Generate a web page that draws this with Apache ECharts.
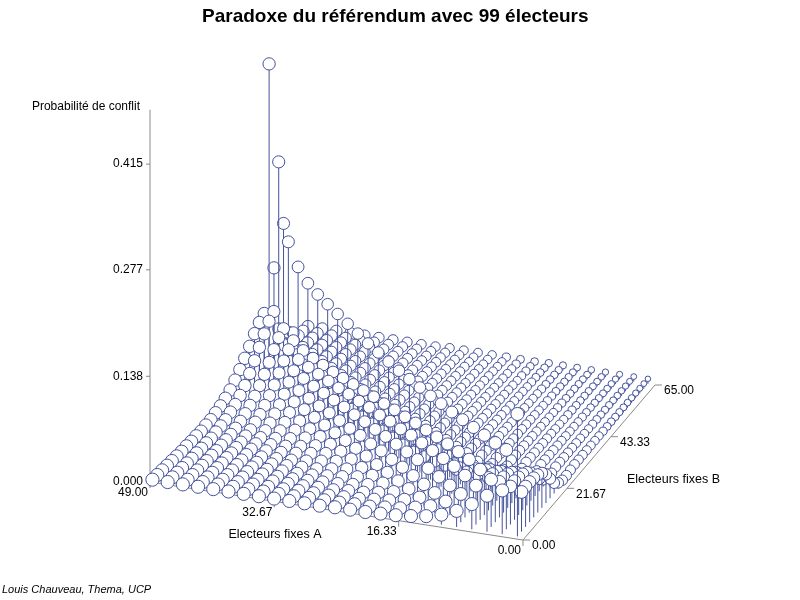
<!DOCTYPE html>
<html>
<head>
<meta charset="utf-8">
<title>Paradoxe du référendum</title>
<script src="https://cdn.jsdelivr.net/npm/echarts@6/dist/echarts.min.js"></script>
<style>
html,body{margin:0;padding:0;background:#fff}
#main{width:800px;height:600px}
</style>
</head>
<body>
<div id="main"></div>
<script>
// electeurs fixes A (lignes) et B (colonnes)
var electeursA = [1,3,5,7,9,11,13,15,17,19,21,23,25,27,29,31,33,35,37,39,41,43,45,47,49];
var electeursB = [1,3,5,7,9,11,13,15,17,19,21,23,25,27,29,31,33,35,37,39,41,43,45,47,49,51,53,55,57,59,61,63,65];

// probabilite de conflit, une ligne par valeur de A
var probConflit = [
	[0.160,0.052,0.053,0.053,0.052, 0.050,0.046,0.038,0.026,0.014, 0.008,0.005,0.005,0.006,0.007, 0.007,0.007,0.007,0.007,0.007, 0.007,0.007,0.007,0.007,0.007, 0.007,0.007,0.007,0.007,0.007, 0.007,0.007,0.007],
	[0.057,0.104,0.050,0.051,0.050, 0.048,0.044,0.037,0.027,0.016, 0.009,0.005,0.005,0.007,0.007, 0.007,0.007,0.007,0.007,0.007, 0.007,0.007,0.007,0.007,0.007, 0.007,0.007,0.007,0.007,0.007, 0.007,0.007,0.007],
	[0.047,0.062,0.104,0.047,0.047, 0.045,0.041,0.035,0.026,0.016, 0.010,0.006,0.005,0.007,0.007, 0.007,0.007,0.007,0.007,0.007, 0.007,0.007,0.007,0.007,0.007, 0.007,0.007,0.007,0.007,0.007, 0.007,0.007,0.007],
	[0.033,0.051,0.066,0.105,0.043, 0.042,0.039,0.033,0.025,0.016, 0.010,0.006,0.005,0.007,0.007, 0.007,0.007,0.007,0.007,0.007, 0.007,0.007,0.007,0.007,0.007, 0.007,0.007,0.007,0.007,0.007, 0.007,0.007,0.007],
	[0.021,0.037,0.055,0.070,0.106, 0.038,0.036,0.032,0.026,0.018, 0.011,0.007,0.005,0.007,0.007, 0.007,0.007,0.007,0.007,0.007, 0.007,0.007,0.007,0.007,0.007, 0.007,0.007,0.007,0.007,0.007, 0.007,0.007,0.007],
	[0.013,0.024,0.039,0.058,0.071, 0.107,0.032,0.029,0.024,0.017, 0.011,0.007,0.005,0.007,0.007, 0.007,0.007,0.007,0.007,0.007, 0.007,0.007,0.007,0.007,0.007, 0.007,0.007,0.007,0.007,0.007, 0.007,0.007,0.007],
	[0.008,0.015,0.026,0.041,0.059, 0.072,0.108,0.026,0.022,0.016, 0.011,0.007,0.005,0.007,0.007, 0.007,0.007,0.007,0.007,0.007, 0.007,0.007,0.007,0.007,0.007, 0.007,0.007,0.007,0.007,0.007, 0.007,0.007,0.007],
	[0.005,0.010,0.017,0.028,0.043, 0.060,0.072,0.110,0.022,0.017, 0.012,0.008,0.006,0.007,0.007, 0.007,0.007,0.007,0.007,0.007, 0.007,0.007,0.007,0.007,0.007, 0.007,0.007,0.007,0.007,0.007, 0.007,0.007,0.007],
	[0.003,0.006,0.011,0.019,0.030, 0.045,0.061,0.072,0.111,0.018, 0.014,0.009,0.007,0.006,0.006, 0.006,0.006,0.006,0.006,0.006, 0.006,0.006,0.006,0.006,0.006, 0.006,0.006,0.006,0.006,0.006, 0.006,0.006,0.006],
	[0.002,0.004,0.007,0.012,0.020, 0.032,0.046,0.062,0.072,0.113, 0.015,0.012,0.008,0.006,0.006, 0.006,0.006,0.006,0.006,0.006, 0.006,0.006,0.006,0.006,0.006, 0.006,0.006,0.006,0.006,0.006, 0.006,0.006,0.006],
	[0.001,0.002,0.005,0.008,0.014, 0.022,0.033,0.047,0.061,0.071, 0.115,0.012,0.010,0.007,0.006, 0.006,0.006,0.006,0.006,0.006, 0.006,0.006,0.006,0.006,0.006, 0.006,0.006,0.006,0.006,0.006, 0.006,0.006,0.006],
	[0.001,0.002,0.003,0.005,0.009, 0.015,0.023,0.035,0.048,0.062, 0.071,0.117,0.012,0.010,0.007, 0.006,0.006,0.006,0.006,0.006, 0.006,0.006,0.006,0.006,0.006, 0.006,0.006,0.006,0.006,0.006, 0.006,0.006,0.006],
	[0.001,0.001,0.002,0.004,0.006, 0.010,0.016,0.025,0.035,0.048, 0.061,0.070,0.120,0.012,0.010, 0.007,0.006,0.006,0.006,0.006, 0.006,0.006,0.006,0.006,0.006, 0.006,0.006,0.006,0.006,0.006, 0.006,0.006,0.006],
	[0.000,0.001,0.001,0.002,0.004, 0.007,0.011,0.018,0.026,0.037, 0.049,0.062,0.070,0.123,0.012, 0.010,0.007,0.006,0.006,0.006, 0.006,0.006,0.006,0.006,0.006, 0.006,0.006,0.006,0.006,0.006, 0.006,0.006,0.006],
	[0.000,0.001,0.001,0.002,0.003, 0.005,0.008,0.012,0.019,0.027, 0.037,0.049,0.061,0.069,0.126, 0.012,0.010,0.007,0.006,0.006, 0.006,0.006,0.006,0.006,0.006, 0.006,0.006,0.006,0.006,0.006, 0.006,0.006,0.006],
	[0.000,0.000,0.001,0.001,0.002, 0.003,0.005,0.009,0.013,0.019, 0.028,0.038,0.050,0.061,0.068, 0.130,0.012,0.010,0.007,0.005, 0.005,0.005,0.005,0.005,0.005, 0.005,0.005,0.005,0.005,0.005, 0.005,0.005,0.005],
	[0.000,0.000,0.000,0.001,0.001, 0.002,0.004,0.006,0.010,0.014, 0.020,0.029,0.039,0.050,0.060, 0.067,0.134,0.013,0.010,0.007, 0.005,0.005,0.005,0.005,0.005, 0.005,0.005,0.005,0.005,0.005, 0.005,0.005,0.005],
	[0.000,0.000,0.000,0.001,0.001, 0.002,0.003,0.004,0.007,0.010, 0.015,0.021,0.030,0.039,0.050, 0.060,0.066,0.138,0.014,0.011, 0.007,0.005,0.005,0.005,0.005, 0.005,0.005,0.005,0.005,0.005, 0.005,0.005,0.005],
	[0.000,0.000,0.000,0.000,0.001, 0.001,0.002,0.003,0.005,0.007, 0.011,0.016,0.022,0.031,0.040, 0.050,0.060,0.066,0.142,0.015, 0.011,0.007,0.005,0.005,0.005, 0.005,0.005,0.005,0.005,0.005, 0.005,0.005,0.005],
	[0.000,0.000,0.000,0.000,0.001, 0.001,0.001,0.002,0.004,0.006, 0.008,0.012,0.017,0.024,0.032, 0.041,0.051,0.060,0.066,0.146, 0.017,0.012,0.008,0.005,0.005, 0.005,0.005,0.005,0.005,0.005, 0.005,0.005,0.005],
	[0.000,0.000,0.000,0.000,0.000, 0.001,0.001,0.002,0.003,0.004, 0.006,0.009,0.013,0.019,0.025, 0.033,0.043,0.052,0.061,0.067, 0.152,0.020,0.014,0.008,0.005, 0.005,0.005,0.005,0.005,0.005, 0.005,0.005,0.005],
	[0.000,0.000,0.000,0.000,0.000, 0.000,0.001,0.001,0.002,0.003, 0.005,0.007,0.011,0.015,0.021, 0.028,0.036,0.046,0.056,0.065, 0.071,0.165,0.026,0.017,0.009, 0.005,0.005,0.005,0.005,0.005, 0.005,0.005,0.005],
	[0.000,0.000,0.000,0.000,0.000, 0.000,0.001,0.001,0.002,0.003, 0.004,0.006,0.009,0.013,0.018, 0.024,0.032,0.041,0.051,0.062, 0.072,0.078,0.190,0.060,0.024, 0.012,0.007,0.005,0.005,0.005, 0.005,0.005,0.005],
	[0.000,0.000,0.000,0.000,0.000, 0.000,0.001,0.001,0.002,0.002, 0.004,0.006,0.008,0.012,0.016, 0.022,0.029,0.039,0.050,0.062, 0.074,0.085,0.092,0.290,0.200, 0.045,0.014,0.007,0.005,0.005, 0.005,0.005,0.005],
	[0.000,0.000,0.000,0.000,0.000, 0.000,0.000,0.001,0.001,0.002, 0.002,0.004,0.005,0.008,0.011, 0.015,0.020,0.027,0.035,0.044, 0.054,0.065,0.074,0.080,0.415, 0.130,0.040,0.012,0.006,0.005, 0.005,0.005,0.005]
];

// graduations (trois intervalles par axe, comme sur l'original)
var ticksA = [49, 32.67, 16.33, 0];
var ticksB = [0, 21.67, 43.33, 65];
var ticksZ = [0, 0.138, 0.277, 0.415];
var maxA = 49, maxB = 65, hautAxeZ = 0.486;

var BLEU = '#45529b';
var GRIS = '#8a8a8a';
var POLICE = '"Liberation Sans", Arial, Helvetica, sans-serif';

// coins du plancher en pixels : (A=49,B=0) (A=0,B=0) (A=0,B=65) (A=49,B=65)
var c49_0 = [150, 482], c0_0 = [523, 540], c0_65 = [655, 385], c49_65 = [308, 330];
var echelleZ = 766;

function plancher(a, b){
	var u = 1 - a / maxA, v = b / maxB;
	var w00 = (1-u)*(1-v), w10 = u*(1-v), w11 = u*v, w01 = (1-u)*v;
	return [
		w00*c49_0[0] + w10*c0_0[0] + w11*c0_65[0] + w01*c49_65[0],
		w00*c49_0[1] + w10*c0_0[1] + w11*c0_65[1] + w01*c49_65[1]
	];
}
function projette(a, b, z){
	var p = plancher(a, b);
	return [p[0], p[1] - z * echelleZ * (1 - 0.06 * b / maxB)];
}
// les cercles du fond (cote B eleve, A faible) sont plus petits
function rayon(a, b){
	var u = 1 - a / maxA, v = b / maxB;
	return 6.6 - 3.3 * u * v - 0.6 * v;
}

// points du graphe, tries du fond vers l'avant
var points = [];
for (var i = 0; i < electeursA.length; i++) {
	for (var j = 0; j < electeursB.length; j++) {
		points.push([electeursA[i], electeursB[j], probConflit[i][j]]);
	}
}
points.sort(function(p, q){ return plancher(p[0], p[1])[1] - plancher(q[0], q[1])[1]; });

var aretes = [
	[maxA, 0, 0, 0, 0, 0],
	[0, 0, 0, 0, maxB, 0],
	[maxA, 0, 0, maxA, 0, hautAxeZ]
];

function texte(t, x, y, align, vAlign, font){
	return {type:'text', style:{text:t, x:x, y:y, fill:'#000', font:font || ('12px ' + POLICE),
		align:align, textAlign:align, verticalAlign:vAlign, textVerticalAlign:vAlign}};
}

var chart = echarts.init(document.getElementById('main'));
chart.setOption({
	animation: false,
	backgroundColor: '#fff',
	title: {
		text: 'Paradoxe du référendum avec 99 électeurs',
		left: 197, top: 2,
		textStyle: {fontSize: 19, fontWeight: 'bold', color: '#000', fontFamily: POLICE}
	},
	grid: {left: 0, right: 0, top: 0, bottom: 0},
	xAxis: {type: 'value', min: 0, max: 800, show: false},
	yAxis: {type: 'value', min: 0, max: 600, inverse: true, show: false},
	graphic: [
		texte('Probabilité de conflit', 140, 107, 'right', 'middle'),
		texte('Electeurs fixes A', 275, 535, 'center', 'middle', '12.5px ' + POLICE),
		texte('Electeurs fixes B', 627, 480, 'left', 'middle', '12.5px ' + POLICE),
		texte('Louis Chauveau, Thema, UCP', 2, 590, 'left', 'middle', 'italic 11px ' + POLICE)
	],
	series: [
		{
			type: 'custom', name: 'axes', silent: true,
			data: aretes,
			renderItem: function(params, api){
				var p = api.coord(projette(api.value(0), api.value(1), api.value(2)));
				var q = api.coord(projette(api.value(3), api.value(4), api.value(5)));
				return {type:'line', shape:{x1:p[0], y1:p[1], x2:q[0], y2:q[1]}, style:{stroke:GRIS, lineWidth:1}};
			}
		},
		{
			type: 'custom', name: 'ticksZ', silent: true,
			data: ticksZ.map(function(z){ return [maxA, 0, z]; }),
			renderItem: function(params, api){
				var z = api.value(2);
				var p = api.coord(projette(api.value(0), api.value(1), z));
				return {type:'group', children:[
					{type:'line', shape:{x1:p[0]-4, y1:p[1], x2:p[0], y2:p[1]}, style:{stroke:GRIS, lineWidth:1}},
					texte(z.toFixed(3), p[0]-7, p[1], 'right', 'middle')
				]};
			}
		},
		{
			type: 'custom', name: 'ticksA', silent: true,
			data: ticksA.map(function(a){ return [a, 0, 0]; }),
			renderItem: function(params, api){
				var a = api.value(0);
				var p = api.coord(projette(a, 0, 0));
				return {type:'group', children:[
					{type:'line', shape:{x1:p[0], y1:p[1], x2:p[0], y2:p[1]+6}, style:{stroke:GRIS, lineWidth:1}},
					texte(a.toFixed(2), p[0]-2, p[1]+11, 'right', 'middle')
				]};
			}
		},
		{
			type: 'custom', name: 'ticksB', silent: true,
			data: ticksB.map(function(b){ return [0, b, 0]; }),
			renderItem: function(params, api){
				var b = api.value(1);
				var p = api.coord(projette(0, b, 0));
				return {type:'group', children:[
					{type:'line', shape:{x1:p[0], y1:p[1], x2:p[0]+7, y2:p[1]}, style:{stroke:GRIS, lineWidth:1}},
					texte(b.toFixed(2), p[0]+9, p[1]+6, 'left', 'middle')
				]};
			}
		},
		{
			type: 'custom', name: 'conflit', silent: true,
			data: points,
			renderItem: function(params, api){
				var a = api.value(0), b = api.value(1), z = api.value(2);
				var bas = api.coord(projette(a, b, 0));
				var haut = api.coord(projette(a, b, z));
				return {type:'group', children:[
					{type:'line', shape:{x1:bas[0], y1:bas[1], x2:haut[0], y2:haut[1]}, style:{stroke:BLEU, lineWidth:1}},
					{type:'circle', shape:{cx:haut[0], cy:haut[1], r:rayon(a, b)}, style:{fill:'#fff', stroke:BLEU, lineWidth:1}}
				]};
			}
		}
	]
});
</script>
</body>
</html>
